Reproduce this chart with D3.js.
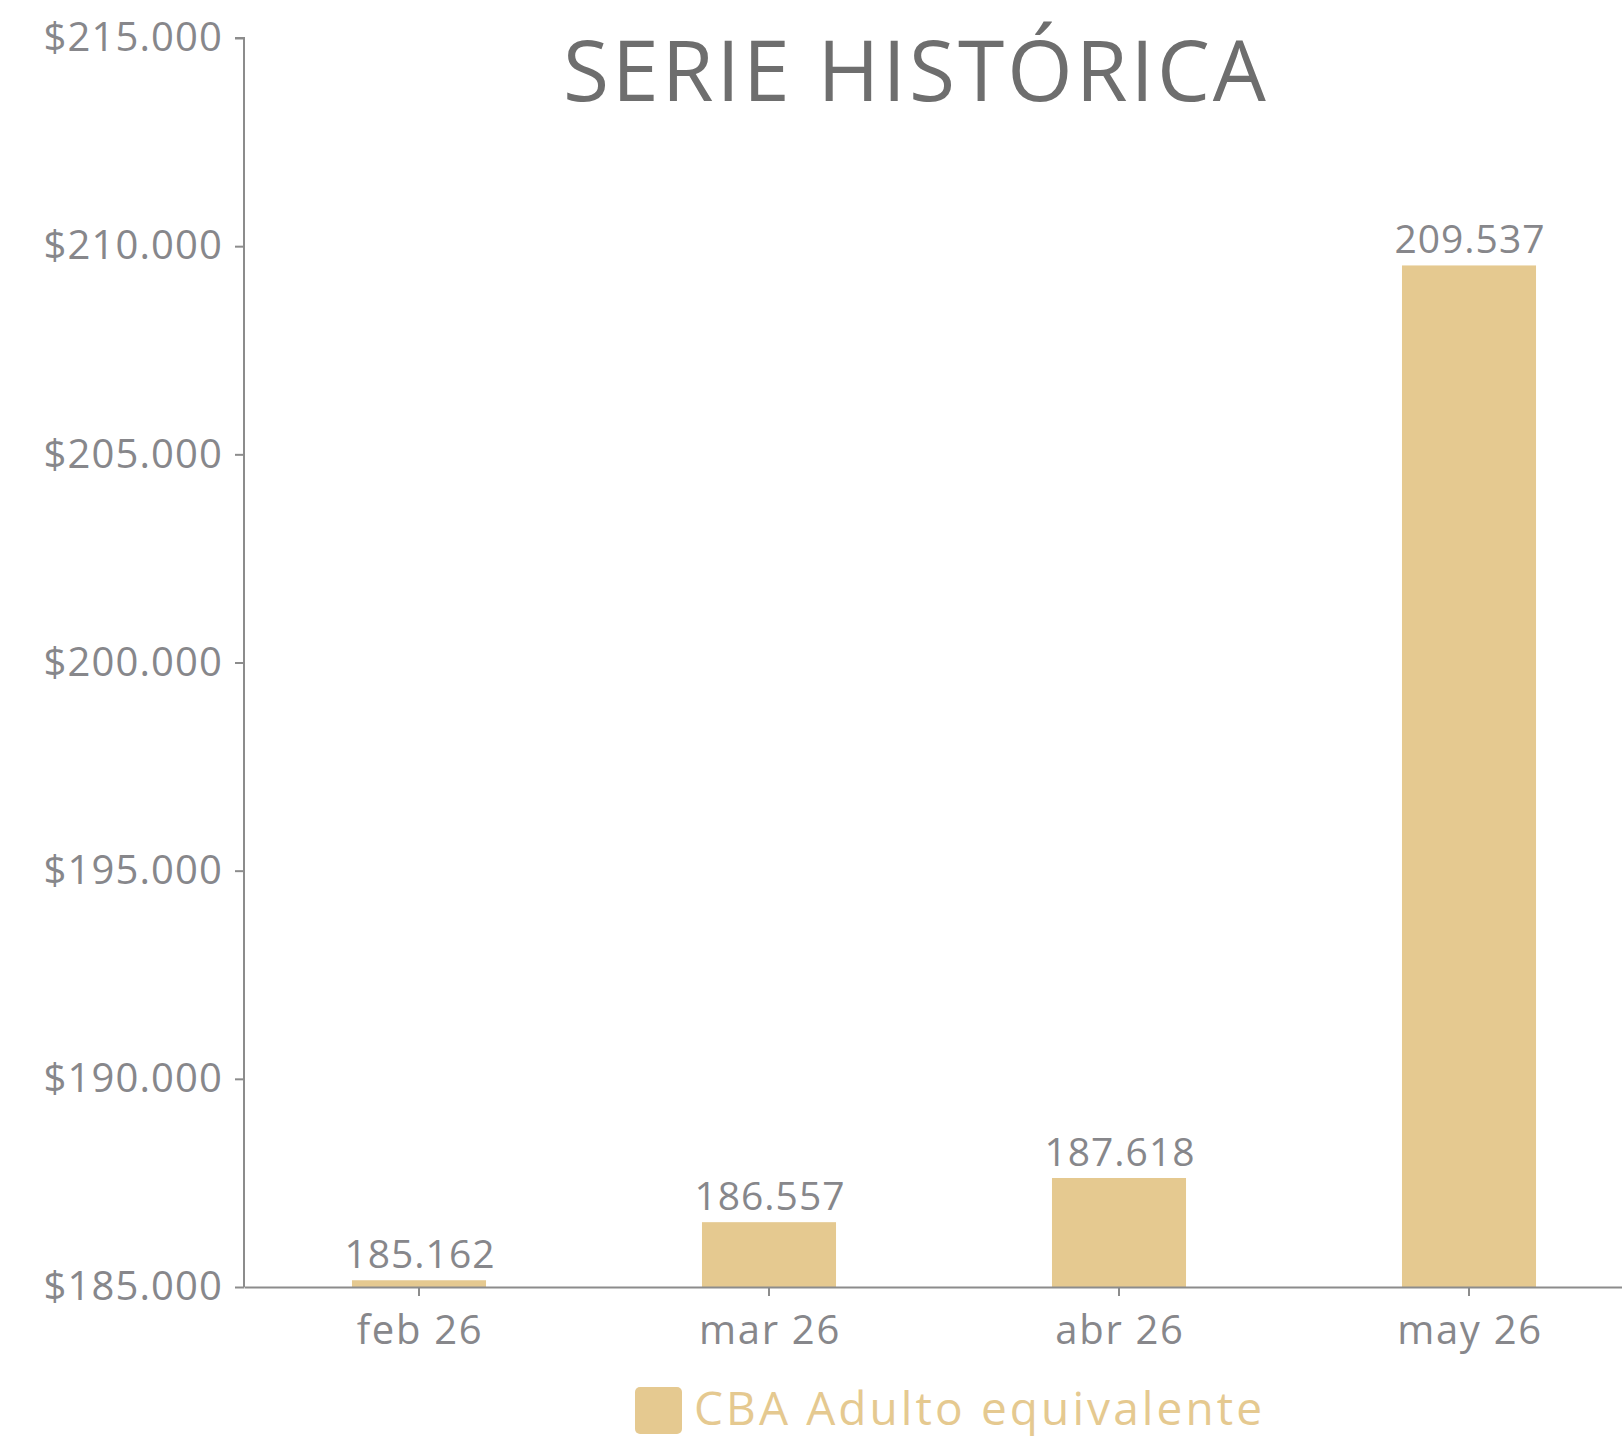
<!DOCTYPE html>
<html>
<head>
<meta charset="utf-8">
<script src="https://cdn.jsdelivr.net/npm/d3@7"></script>
<style>
  html, body { margin: 0; padding: 0; background: #fff; }
  svg { display: block; font-family: 'Open Sans', sans-serif; }
</style>
</head>
<body>
<div class="chart"></div>
<script>
const months = ['feb 26', 'mar 26', 'abr 26', 'may 26'];
const cbaValues = [185162, 186557, 187618, 209537];
const yTicks = [185000, 190000, 195000, 200000, 205000, 210000, 215000];
const seriesName = 'CBA Adulto equivalente';
const title = 'SERIE HISTÓRICA';

const config = {
  width: 1622,
  height: 1438,
  left: 244,
  right: 1644,
  top: 38,
  bottom: 1287,
  barColor: '#e5c990',
  axisColor: '#8c8c8c',
  textColor: '#87878b',
  titleColor: '#6e6e6e'
};

const locale = d3.formatLocale({ decimal: ',', thousands: '.', grouping: [3], currency: ['$', ''] });
const fmt = locale.format(',d');
const fmtMoney = locale.format('$,d');

const svg = d3.select('.chart')
  .append('svg')
  .attr('width', config.width)
  .attr('height', config.height);

const x = d3.scaleBand()
  .domain(months)
  .range([config.left, config.right])
  .paddingInner(0.617)
  .paddingOuter(0.3085);

const y = d3.scaleLinear()
  .domain([185000, 215000])
  .range([config.bottom, config.top]);

// title
svg.append('text')
  .attr('x', 916)
  .attr('y', 101)
  .attr('text-anchor', 'middle')
  .attr('font-size', 84)
  .attr('letter-spacing', 3)
  .attr('fill', config.titleColor)
  .text(title);

// bars
svg.append('g')
  .selectAll('rect')
  .data(cbaValues)
  .enter()
  .append('rect')
  .attr('x', (d, i) => x(months[i]))
  .attr('y', d => y(d))
  .attr('width', x.bandwidth())
  .attr('height', d => y(185000) - y(d))
  .attr('fill', config.barColor);

// value labels
svg.append('g')
  .selectAll('text')
  .data(cbaValues)
  .enter()
  .append('text')
  .attr('x', (d, i) => x(months[i]) + x.bandwidth() / 2 + 1)
  .attr('y', d => y(d) - 12)
  .attr('text-anchor', 'middle')
  .attr('font-size', 39)
  .attr('letter-spacing', 1)
  .attr('fill', config.textColor)
  .text(d => fmt(d));

// y axis
const yAxis = svg.append('g')
  .attr('transform', `translate(${config.left},0)`)
  .call(d3.axisLeft(y).tickValues(yTicks).tickFormat(fmtMoney).tickSize(9).tickPadding(12));

// x axis
const xAxis = svg.append('g')
  .attr('transform', `translate(0,${config.bottom})`)
  .call(d3.axisBottom(x).tickSize(9).tickSizeOuter(0).tickPadding(20));

[yAxis, xAxis].forEach(a => {
  a.select('.domain').attr('stroke', config.axisColor).attr('stroke-width', 2);
  a.selectAll('.tick line').attr('stroke', config.axisColor).attr('stroke-width', 2);
  a.selectAll('.tick text')
    .attr('font-family', "'Open Sans', sans-serif")
    .attr('font-size', 40)
    .attr('fill', config.textColor);
});
yAxis.selectAll('.tick text').attr('letter-spacing', 1.1);
xAxis.selectAll('.tick text').attr('letter-spacing', 1.7).attr('dx', 1);
yAxis.select('.domain').attr('d', `M-9,${y(215000)}H0V${y(185000)}`);

// legend
const legend = svg.append('g').attr('transform', 'translate(635,1387)');
legend.append('rect')
  .attr('width', 47)
  .attr('height', 47)
  .attr('rx', 5)
  .attr('fill', config.barColor);
legend.append('text')
  .attr('x', 59)
  .attr('y', 38)
  .attr('font-size', 46)
  .attr('letter-spacing', 3.1)
  .attr('fill', config.barColor)
  .text(seriesName);
</script>
</body>
</html>
